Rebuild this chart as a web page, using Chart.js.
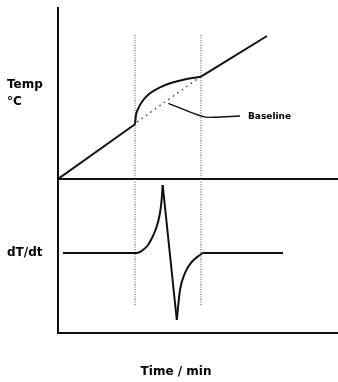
<!DOCTYPE html>
<html>
<head>
<meta charset="utf-8">
<script src="https://cdn.jsdelivr.net/npm/chart.js@4"></script>
<style>
  html, body { margin: 0; padding: 0; background: #fff; }
  #wrap { width: 338px; height: 382px; }
</style>
</head>
<body>
<div id="wrap"><canvas id="grafico" width="338" height="382"></canvas></div>
<script>
// time axis (min) and the two panel ranges
const timeRange = [0, 28];
const tempRange = [0, 171];
const dtRange = [-80, 74];

// temperature: linear heating, curved section during the reaction, linear again
const tempTime = [0, 7.7, 7.8, 8.03, 8.53, 9.2, 10.2, 11.53, 12.87, 14.3, 20.9];
const tempValue = [0, 54.7, 64, 70.7, 79, 85.7, 91.7, 96.7, 100, 102.3, 143];

// extrapolated baseline under the reaction
const baseTime = [7.9, 14.2];
const baseValue = [57, 102];

// pointer from the baseline to its label
const pointerTime = [11.03, 14.53, 15.53, 18.2];
const pointerValue = [75.7, 62.3, 61.7, 63];

// derivative of the temperature trace
const dtTime = [0.5, 7.87, 8.5, 9.0, 9.4, 9.75, 10.03, 10.23, 10.37, 10.47, 11.7, 11.88, 12.2, 12.7, 13.37, 14.2, 14.5, 22.5];
const dtValue = [0, 0, 3, 8, 15, 23, 32, 42, 54, 68, -50, -67, -37, -20, -9, -2, 0, 0];

// start / end of the reaction (dotted verticals)
const markerTimes = [7.7, 14.3];
const markerTop = 144;     // in temperature units
const markerBottom = -53;  // in dT/dt units

const negro = '#111';
const xy = (xs, ys) => xs.map((x, i) => ({ x, y: ys[i] }));

const tempPts = xy(tempTime, tempValue);
const iStart = tempTime.indexOf(markerTimes[0]);
const iEnd = tempTime.indexOf(markerTimes[1]);

const dtPts = xy(dtTime, dtValue);
const iPeak = dtValue.indexOf(Math.max(...dtValue));
const iLow = dtValue.indexOf(Math.min(...dtValue));

function linea(data, yAxisID, extra) {
  return Object.assign({
    data, yAxisID, borderColor: negro, borderWidth: 2, pointRadius: 0,
    fill: false, tension: 0
  }, extra || {});
}

const datasets = [
  // temperature, three pieces so the corners stay sharp
  linea(tempPts.slice(0, iStart + 1), 'yT'),
  linea(tempPts.slice(iStart, iEnd + 1), 'yT', { cubicInterpolationMode: 'monotone' }),
  linea(tempPts.slice(iEnd), 'yT'),
  linea(xy(baseTime, baseValue), 'yT', { borderColor: '#333', borderWidth: 1.3, borderDash: [1.5, 4] }),
  linea(xy(pointerTime, pointerValue), 'yT', { borderWidth: 1.4, tension: 0.35 }),
  // dT/dt: rise to the peak, straight fall, recovery
  linea(dtPts.slice(0, iPeak + 1), 'yD', { cubicInterpolationMode: 'monotone' }),
  linea(dtPts.slice(iPeak, iLow + 1), 'yD'),
  linea(dtPts.slice(iLow), 'yD', { cubicInterpolationMode: 'monotone' })
];
const iPointer = 4;

markerTimes.forEach(t => {
  const estilo = { borderColor: '#444', borderWidth: 1, borderDash: [1, 1.5] };
  datasets.push(linea([{ x: t, y: markerTop }, { x: t, y: tempRange[0] }], 'yT', estilo));
  datasets.push(linea([{ x: t, y: dtRange[1] }, { x: t, y: markerBottom }], 'yD', estilo));
});

const rotulos = {
  id: 'rotulos',
  afterDatasetsDraw(chart) {
    const { ctx, scales } = chart;
    ctx.save();
    ctx.fillStyle = '#000';
    ctx.textBaseline = 'middle';
    ctx.textAlign = 'left';
    ctx.font = 'bold 12px "DejaVu Sans"';
    const midT = (scales.yT.top + scales.yT.bottom) / 2;
    ctx.fillText('Temp', 7, midT - 9);
    ctx.fillText('°C', 7, midT + 8);
    ctx.fillText('dT/dt', 7, scales.yD.getPixelForValue(0));
    // axis title sits a little left of the plot centre
    ctx.textAlign = 'center';
    ctx.fillText('Time / min', 176, chart.height - 10);
    const pts = chart.getDatasetMeta(iPointer).data;
    const fin = pts[pts.length - 1];
    ctx.textAlign = 'left';
    ctx.font = 'bold 9px "DejaVu Sans"';
    ctx.fillText('Baseline', fin.x + 8, fin.y + 1);
    ctx.restore();
  }
};

const ejeBorde = { display: true, color: negro, width: 2 };

new Chart(document.getElementById('grafico').getContext('2d'), {
  type: 'line',
  data: { datasets },
  options: {
    responsive: false,
    animation: false,
    layout: { padding: { left: 58, top: 8, right: 0, bottom: 49 } },
    plugins: { legend: { display: false }, tooltip: { enabled: false } },
    scales: {
      x: {
        type: 'linear', min: timeRange[0], max: timeRange[1],
        ticks: { display: false },
        grid: { display: false, drawTicks: false },
        border: ejeBorde
      },
      yD: {
        type: 'linear', position: 'left', stack: 'paneles', stackWeight: 154,
        min: dtRange[0], max: dtRange[1],
        ticks: { display: false },
        grid: { display: false, drawTicks: false },
        border: ejeBorde
      },
      yT: {
        type: 'linear', position: 'left', stack: 'paneles', stackWeight: 171,
        min: tempRange[0], max: tempRange[1],
        ticks: { display: false },
        grid: {
          drawTicks: false, lineWidth: 2,
          color: c => (c.tick && c.tick.value === tempRange[0]) ? negro : 'rgba(0,0,0,0)'
        },
        border: ejeBorde
      }
    }
  },
  plugins: [rotulos]
});
</script>
</body>
</html>
